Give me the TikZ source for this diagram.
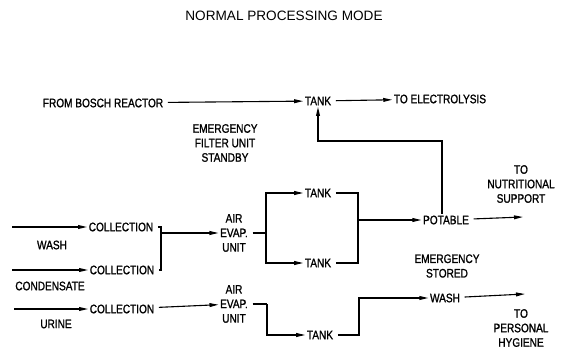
\documentclass[tikz,border=0pt]{standalone}
\usepackage{fontspec}
\setmainfont{Liberation Sans}
\newfontfamily\bodyfont[FakeStretch=0.82,FakeBold=1.2]{Liberation Sans}
\usetikzlibrary{arrows.meta,calc}

\begin{document}
\begin{tikzpicture}[x=1pt, y=-1pt, >={Triangle[length=9pt,width=3.8pt]},
  lbl/.style={font=\bodyfont\fontsize{12.3}{14.5}\selectfont, inner sep=1.5pt, align=center},
  flow/.style={line width=1.1pt},
  outflow/.style={flow, shorten <=3pt}]
  \useasboundingbox[fill=white] (0,0) rectangle (563,356);
  \node[font=\fontsize{13.6}{16}\selectfont] (title) at (284,16) {NORMAL PROCESSING MODE};

  % top row
  \node[lbl] (bosch) at (103,103) {FROM BOSCH REACTOR};
  \node[lbl] (tankTop) at (318,101) {TANK};
  \node[lbl] (electro) at (440,99) {TO ELECTROLYSIS};
  \node[lbl] (filter) at (225,143) {EMERGENCY\\FILTER UNIT\\STANDBY};
  \draw[outflow,->] (bosch) -- (tankTop);
  \draw[outflow,->] (tankTop) -- (electro);

  % potable and return to tank
  \node[lbl] (potable) at (446,220) {POTABLE};
  \node[lbl] (nutri) at (521,184) {TO\\NUTRITIONAL\\SUPPORT};
  \coordinate (fb) at (442,141);
  \coordinate (nutriEnd) at (523,217);
  \draw[flow,->] (potable.north -| fb) -- (fb) -| (tankTop.south);
  \draw[outflow,->] (potable) -- (nutriEnd);

  % collection
  \node[lbl] (coll1) at (121,227) {COLLECTION};
  \node[lbl] (coll2) at (122,270) {COLLECTION};
  \node[lbl] (coll3) at (122,309) {COLLECTION};
  \node[lbl] (washIn) at (52,245) {WASH};
  \node[lbl] (condensate) at (50,286) {CONDENSATE};
  \node[lbl] (urine) at (56,324) {URINE};
  \coordinate (in1) at (12,227);
  \coordinate (in2) at (12,270);
  \coordinate (in3) at (14,309);
  \draw[flow,->] (in1) -- (coll1);
  \draw[flow,->] (in2) -- (coll2);
  \draw[flow,->] (in3) -- (coll3);

  % wash + condensate line
  \node[lbl] (evap1) at (234,233) {AIR\\EVAP.\\UNIT};
  \node[lbl] (tankA) at (318,193) {TANK};
  \node[lbl] (tankB) at (318,263) {TANK};
  \coordinate (j1) at (161,233);
  \coordinate (s1) at (266,233);
  \coordinate (j2) at (358,220);
  \draw[outflow, shorten >=3pt] (coll1.east) -| (j1) |- (coll2.east);
  \draw[flow,->] (j1) -- (evap1);
  \draw[outflow] (evap1) -- (s1);
  \draw[flow,->] (s1) |- (tankA);
  \draw[flow,->] (s1) |- (tankB);
  \draw[outflow, shorten >=3pt] (tankA.east) -| (j2) |- (tankB.east);
  \draw[flow,->] (j2) -- (potable);

  % urine line
  \node[lbl] (evap2) at (234,304) {AIR\\EVAP.\\UNIT};
  \node[lbl] (tankC) at (320,335) {TANK};
  \node[lbl] (washOut) at (445,298) {WASH};
  \node[lbl] (stored) at (447,266) {EMERGENCY\\STORED};
  \node[lbl] (hygiene) at (521,328) {TO\\PERSONAL\\HYGIENE};
  \coordinate (s2) at (267,304);
  \coordinate (j3) at (359,298);
  \coordinate (hygEnd) at (525,294);
  \draw[outflow,->] (coll3) -- (evap2);
  \draw[outflow] (evap2) -- (s2);
  \draw[flow,->] (s2) |- (tankC);
  \draw[outflow,->] (tankC.east) -| (j3) -- (washOut);
  \draw[outflow,->] (washOut) -- (hygEnd);
\end{tikzpicture}
\end{document}
